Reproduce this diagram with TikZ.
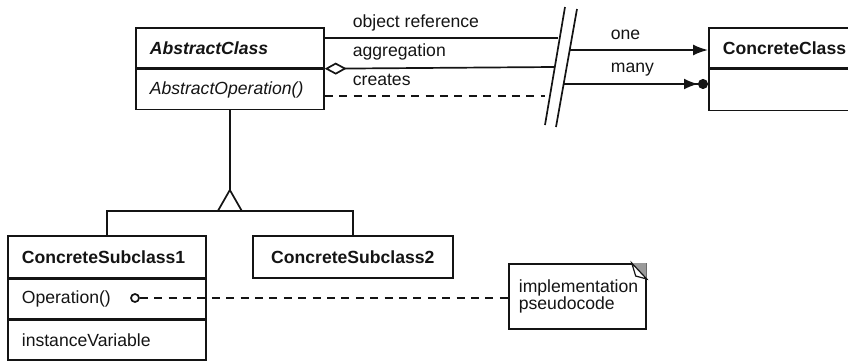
\documentclass[tikz,border=0pt]{standalone}
\usepackage{fontspec}
\setmainfont{Liberation Sans}
\usepackage{tikz}
\usetikzlibrary{arrows.meta,positioning}
\definecolor{Ink}{HTML}{141414}
\definecolor{Fold}{HTML}{9A9A9A}
\newcommand{\umlfont}{\fontsize{8.8pt}{10.5pt}\selectfont}

\begin{document}
\begin{tikzpicture}[x=0.5pt,y=-0.5pt,line width=0.85pt,Ink,
  cls/.style={draw,anchor=north west,minimum height=20pt,inner xsep=7pt,inner ysep=0pt,align=left,font=\umlfont},
  lbl/.style={anchor=west,inner sep=0pt,font=\umlfont},
  dashln/.style={dash pattern=on 4pt off 3.2pt},
  tip/.style={-{Latex[length=7.5pt,width=5.5pt]}}]
  \useasboundingbox (0,0) rectangle (848,360);
  \node[cls,text width=80pt,font=\umlfont\bfseries\itshape] (abs) at (135,27) {AbstractClass};
  \node[cls,text width=80pt,font=\umlfont\itshape] (absop) at (abs.south west) {AbstractOperation()};
  \node[cls,text width=56pt,font=\umlfont\bfseries] (cc) at (708,27) {ConcreteClass};
  \node[cls,text width=56pt,minimum height=20.5pt] (ccbody) at (cc.south west) {};
  \node[cls,text width=85pt,minimum height=21pt,font=\umlfont\bfseries] (sub1) at (7,235) {ConcreteSubclass1};
  \node[cls,text width=85pt,minimum height=19.5pt] (sub1op) at (sub1.south west) {Operation()};
  \node[cls,text width=85pt] (sub1var) at (sub1op.south west) {instanceVariable};
  \node[cls,text width=86pt,minimum height=21pt,align=center,font=\umlfont\bfseries] (sub2) at (252,235) {ConcreteSubclass2};
  \node[cls,text width=58.5pt,minimum height=32.5pt,inner xsep=5pt,font=\fontsize{8.8pt}{8.6pt}\selectfont] (note) at (508,263) {implementation\\pseudocode};
  \fill[Fold] (note.north east) -- ++(-15,0) -- ++(15,16) -- cycle;
  \filldraw[fill=white,line width=0.6pt] (note.north east) ++(-15,0) -- ++(4,13) -- ++(11,3) -- cycle;
  \coordinate (orefend) at (558,38);
  \coordinate (aggend) at (554,67);
  \coordinate (creend) at (545,96);
  \coordinate (onestart) at (570,50);
  \coordinate (manystart) at (564,84);
  \draw (orefend -| abs.east) -- (orefend);
  \draw[{Diamond[open,length=11pt,width=6pt]}-] (abs.south east) -- (aggend);
  \draw[dashln] (creend -| absop.east) -- (creend);
  \draw (565,7) -- (545,125);
  \draw (577,9) -- (556,127);
  \draw[tip] (onestart) -- (onestart -| cc.west);
  \draw[-{Latex[length=7pt,width=5.5pt]Circle[length=5pt]}] (manystart) -- (manystart -| ccbody.west);
  \node[lbl] (lobj) at (352,23) {object reference};
  \node[lbl] (lagg) at (352,52) {aggregation};
  \node[lbl] (lcre) at (352,80) {creates};
  \node[lbl] (lone) at (610,35) {one};
  \node[lbl] (lmany) at (610,70) {many};
  \coordinate (gentip) at (absop.south |- 0,190);
  \draw (absop.south) -- (gentip);
  \draw (gentip) -- ++(-12,21) -- ++(24,0) -- cycle;
  \draw (sub1.north) -- ++(0,-24) -| (sub2.north);
  \node[circle,draw,inner sep=0pt,minimum size=4pt] (opdot) at (135,298) {};
  \draw[dashln] (opdot.east) -- (opdot.east -| note.west);
\end{tikzpicture}
\end{document}
